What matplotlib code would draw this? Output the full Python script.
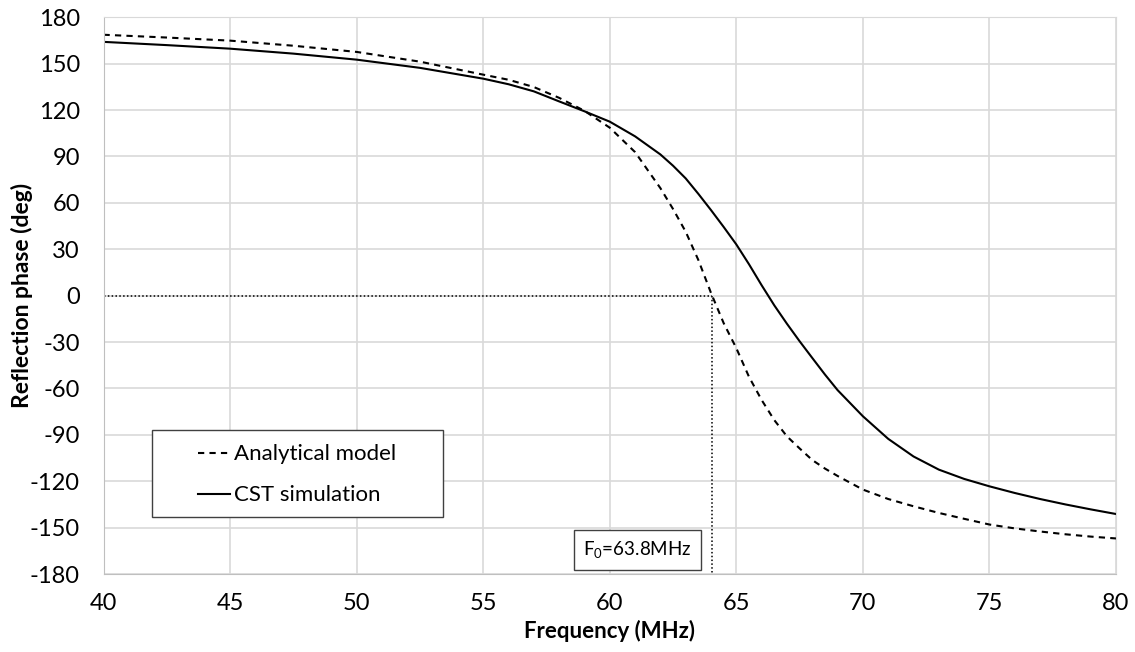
import matplotlib
matplotlib.use('Agg')
import matplotlib.pyplot as plt
from matplotlib.patches import Rectangle

plt.rcParams['font.family'] = ['Lato', 'DejaVu Sans']
plt.rcParams['axes.unicode_minus'] = False

# frequência (MHz) e fase de reflexão (graus)
freq = [40, 42.5, 45, 47.5, 50, 52.5, 55, 56, 57, 58, 59, 60, 61, 62, 62.5, 63, 63.5,
        64, 64.5, 65, 65.5, 66, 66.5, 67, 67.5, 68, 68.5, 69, 70, 71, 72, 73, 74, 75,
        76, 77, 78, 79, 80]
analytical = [168.7, 166.9, 164.9, 161.6, 157.6, 151.3, 142.9, 139.6, 134.9, 127.9,
              119.5, 108.6, 92.8, 69.5, 56.0, 41.3, 23.0, 1.7, -17.8, -34.0, -52.5,
              -67.5, -80.5, -91.0, -98.8, -106.3, -111.8, -116.6, -125.4, -131.5,
              -136.2, -140.5, -144.3, -148.0, -150.5, -152.5, -154.3, -155.8, -157.0]
cst = [164.1, 162.0, 159.7, 156.5, 152.6, 147.3, 140.3, 136.7, 132.1, 125.6, 119.2,
       112.5, 103.0, 91.3, 84.0, 75.8, 65.8, 55.3, 44.4, 33.1, 20.3, 6.7, -6.3, -18.2,
       -29.5, -40.3, -51.0, -61.1, -78.0, -92.6, -104.0, -112.5, -118.5, -123.3,
       -127.6, -131.5, -135.0, -138.2, -141.2]

f0 = 64.04
f0_label = 'F$_{\\mathregular{0}}$=63.8MHz'
xticks = list(range(40, 81, 5))
yticks = list(range(-180, 181, 30))

fig = plt.figure(figsize=(11.35, 6.52), dpi=100)
ax = fig.add_axes([0.0912, 0.1196, 0.8921, 0.8539])

ax.plot(freq, analytical, color='black', linewidth=1.5, dashes=(3, 2.5),
        label='Analytical model')
ax.plot(freq, cst, color='black', linewidth=1.5, label='CST simulation')

# linhas pontilhadas da frequência de ressonância
ax.plot([40, f0], [0, 0], color='black', linewidth=1.1, linestyle=(0, (1, 1.5)))
ax.plot([f0, f0], [0, -180], color='black', linewidth=1.1, linestyle=(0, (1, 1.5)))

ax.set_xlim(40, 80)
ax.set_ylim(-180, 180)
ax.set_xticks(xticks)
ax.set_yticks(yticks)
ax.tick_params(axis='both', length=0, labelsize=17)
ax.tick_params(axis='y', pad=17)
ax.tick_params(axis='x', pad=14)
ax.grid(True, color='#d9d9d9', linewidth=1.2)
ax.set_axisbelow(True)
for s in ax.spines.values():
    s.set_color('#d9d9d9')
ax.spines['left'].set_color('#bfbfbf')
ax.spines['bottom'].set_color('#bfbfbf')

ax.set_xlabel('Frequency (MHz)', fontsize=16, fontweight='bold', labelpad=4)
ax.set_ylabel('Reflection phase (deg)', fontsize=16.5, fontweight='bold')
ax.yaxis.set_label_coords(-0.0696, 0.5)

# caixa da legenda desenhada à parte
ax.add_patch(Rectangle((0.0482, 0.1018), 0.2868, 0.1569, transform=ax.transAxes,
                       facecolor='white', edgecolor='#404040', linewidth=1.0, zorder=4))
leg = ax.legend(loc='upper left', bbox_to_anchor=(0.0933, 0.233), fontsize=16,
                handlelength=1.45, handletextpad=0.15, labelspacing=0.95,
                borderpad=0, borderaxespad=0, frameon=False)
leg.set_zorder(5)

ax.text(61.1, -164.6, f0_label, fontsize=13.5, ha='center', va='center', zorder=6,
        bbox=dict(boxstyle='square,pad=0.5', facecolor='white', edgecolor='#404040',
                  linewidth=1.0))

fig.savefig('out.png', dpi=100)
